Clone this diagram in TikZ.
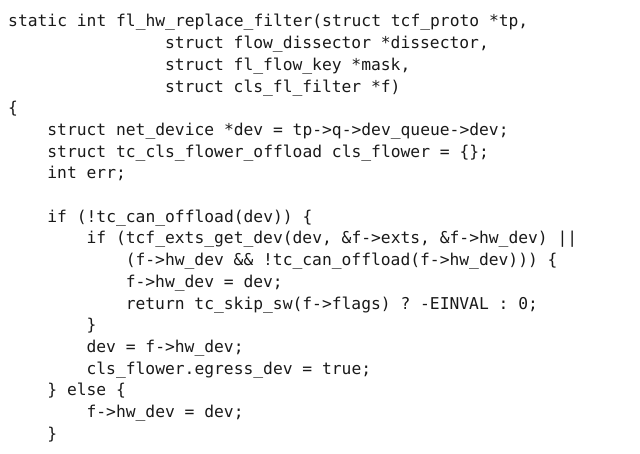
\documentclass[tikz,border=0pt]{standalone}
\usepackage{fontspec}
\setmonofont{DejaVu Sans Mono}
\usetikzlibrary{positioning}
\tikzset{
    code/.style = {anchor=base west, inner sep=0, font=\ttfamily\fontsize{16.3}{20}\selectfont, text=black!90}
}

\begin{document}
\begin{tikzpicture}[x=9.8pt,y=-21.7pt]
    \useasboundingbox (0pt,0pt) rectangle (640pt,-454pt);
    \begin{scope}[shift={(8pt,-27pt)}]
    \node[code] (l0) at (0,0) {static int fl\_hw\_replace\_filter(struct tcf\_proto *tp,};
    \node[code] (l1) at (16,1) {struct flow\_dissector *dissector,};
    \node[code] (l2) at (16,2) {struct fl\_flow\_key *mask,};
    \node[code] (l3) at (16,3) {struct cls\_fl\_filter *f)};
    \node[code] (l4) at (0,4) {\{};
    \node[code] (l5) at (4,5) {struct net\_device *dev = tp->q->dev\_queue->dev;};
    \node[code] (l6) at (4,6) {struct tc\_cls\_flower\_offload cls\_flower = \{\};};
    \node[code] (l7) at (4,7) {int err;};
    % blank line
    \node[code] (l9) at (4,9) {if (!tc\_can\_offload(dev)) \{};
    \node[code] (l10) at (8,10) {if (tcf\_exts\_get\_dev(dev, \&f->exts, \&f->hw\_dev) ||};
    \node[code] (l11) at (12,11) {(f->hw\_dev \&\& !tc\_can\_offload(f->hw\_dev))) \{};
    \node[code] (l12) at (12,12) {f->hw\_dev = dev;};
    \node[code] (l13) at (12,13) {return tc\_skip\_sw(f->flags) ? -EINVAL : 0;};
    \node[code] (l14) at (8,14) {\}};
    \node[code] (l15) at (8,15) {dev = f->hw\_dev;};
    \node[code] (l16) at (8,16) {cls\_flower.egress\_dev = true;};
    \node[code] (l17) at (4,17) {\} else \{};
    \node[code] (l18) at (8,18) {f->hw\_dev = dev;};
    \node[code] (l19) at (4,19) {\}};
    \end{scope}
\end{tikzpicture}
\end{document}
